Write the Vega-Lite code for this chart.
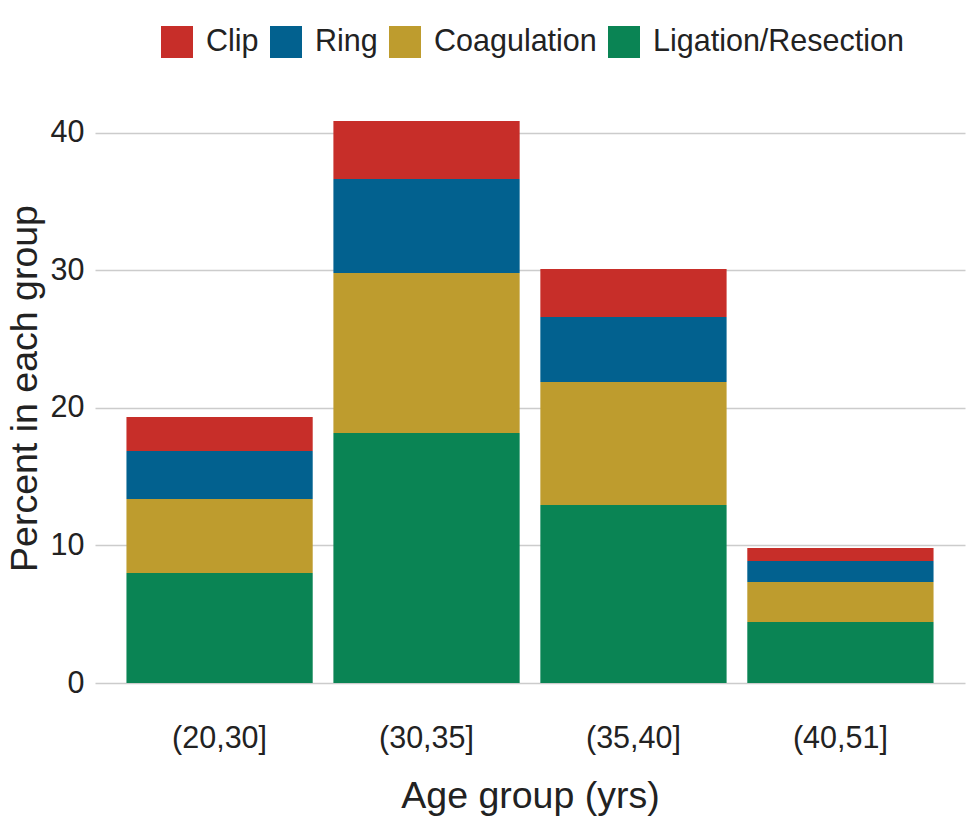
{
  "$schema": "https://vega.github.io/schema/vega-lite/v6.json",
  "width": 870,
  "height": 590,
  "autosize": "none",
  "padding": {"left": 95, "top": 93, "right": 10, "bottom": 142},
  "config": {
    "font": "Liberation Sans",
    "view": {"stroke": null},
    "axis": {"labelColor": "#222222", "titleColor": "#222222", "titleFontWeight": "normal"},
    "legend": {"labelColor": "#222222"}
  },
  "data": {
    "values": [
      {"group": "(20,30]", "method": "Ligation/Resection", "value": 8.0},
      {"group": "(20,30]", "method": "Coagulation", "value": 5.38},
      {"group": "(20,30]", "method": "Ring", "value": 3.49},
      {"group": "(20,30]", "method": "Clip", "value": 2.48},
      {"group": "(30,35]", "method": "Ligation/Resection", "value": 18.18},
      {"group": "(30,35]", "method": "Coagulation", "value": 11.64},
      {"group": "(30,35]", "method": "Ring", "value": 6.83},
      {"group": "(30,35]", "method": "Clip", "value": 4.22},
      {"group": "(35,40]", "method": "Ligation/Resection", "value": 12.95},
      {"group": "(35,40]", "method": "Coagulation", "value": 8.94},
      {"group": "(35,40]", "method": "Ring", "value": 4.73},
      {"group": "(35,40]", "method": "Clip", "value": 3.49},
      {"group": "(40,51]", "method": "Ligation/Resection", "value": 4.44},
      {"group": "(40,51]", "method": "Coagulation", "value": 2.91},
      {"group": "(40,51]", "method": "Ring", "value": 1.52},
      {"group": "(40,51]", "method": "Clip", "value": 0.95}
    ]
  },
  "mark": {"type": "bar"},
  "encoding": {
    "x": {
      "field": "group",
      "type": "nominal",
      "sort": ["(20,30]", "(30,35]", "(35,40]", "(40,51]"],
      "scale": {"paddingInner": 0.1, "paddingOuter": 0.152},
      "axis": {
        "title": "Age group (yrs)",
        "labelAngle": 0,
        "domain": false,
        "ticks": false,
        "grid": false,
        "labelFontSize": 30.5,
        "labelPadding": 40,
        "titleFontSize": 37.5,
        "titlePadding": 24
      }
    },
    "y": {
      "field": "value",
      "type": "quantitative",
      "stack": "zero",
      "scale": {"domain": [0, 42.9], "nice": false},
      "axis": {
        "title": "Percent in each group",
        "values": [0, 10, 20, 30, 40],
        "domain": false,
        "ticks": false,
        "grid": true,
        "gridColor": "#cccccc",
        "gridWidth": 1.5,
        "labelFontSize": 30.5,
        "labelPadding": 11,
        "titleFontSize": 37.5,
        "titlePadding": 6
      }
    },
    "order": {"field": "value", "type": "quantitative", "sort": "descending"},
    "color": {
      "field": "method",
      "type": "nominal",
      "scale": {
        "domain": ["Clip", "Ring", "Coagulation", "Ligation/Resection"],
        "range": ["#C72E29", "#02618F", "#BE9C2E", "#0A8454"]
      },
      "legend": {
        "orient": "none",
        "direction": "horizontal",
        "legendX": 66,
        "legendY": -67,
        "title": null,
        "symbolType": "square",
        "symbolSize": 1024,
        "symbolStrokeWidth": 0,
        "symbolOpacity": 1,
        "labelFontSize": 30.5,
        "labelLimit": 500,
        "labelOffset": 13,
        "columnPadding": 11
      }
    }
  }
}
